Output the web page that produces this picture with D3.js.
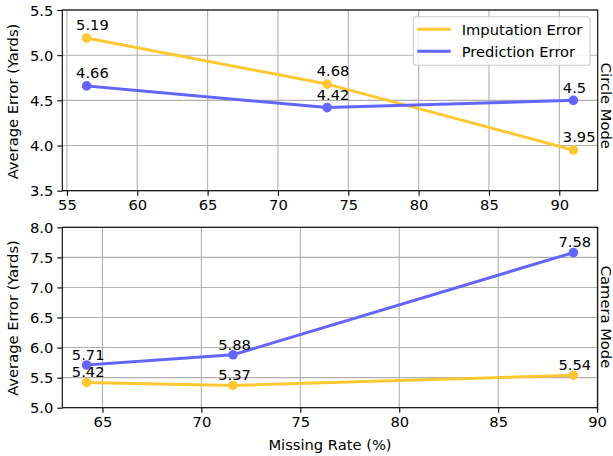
<!DOCTYPE html>
<html><head><meta charset="utf-8">
<script src="https://cdn.jsdelivr.net/npm/d3@7"></script>
<style>body{margin:0;background:#fff}svg{display:block}text{font-family:"DejaVu Sans",sans-serif}</style>
</head><body><svg id="c" width="613" height="456"></svg>
<script>
// Data
const circleMissing = [56.4, 73.5, 91.0];
const circleImputation = [5.19, 4.68, 3.95];
const circlePrediction = [4.66, 4.42, 4.5];
const cameraMissing = [64.2, 71.6, 88.8];
const cameraImputation = [5.42, 5.37, 5.54];
const cameraPrediction = [5.71, 5.88, 7.58];
const circleXTicks = [55, 60, 65, 70, 75, 80, 85, 90];
const circleYTicks = [3.5, 4.0, 4.5, 5.0, 5.5];
const cameraXTicks = [65, 70, 75, 80, 85, 90];
const cameraYTicks = [5.0, 5.5, 6.0, 6.5, 7.0, 7.5, 8.0];
const seriesNames = ["Imputation Error", "Prediction Error"];
const panelNames = ["Circle Mode", "Camera Mode"];

const colors = ["#FFC832", "#6464FF"];
const FS = 14.7;
const svg = d3.select("#c");

function padDomain(a){const lo=d3.min(a),hi=d3.max(a),m=(hi-lo)*0.05;return [lo-m,hi+m];}

function panel(cfg){
  const {x0,x1,y0,y1,xs,ys,yDom,xTicks,yTicks,name,labelY,rightY} = cfg;
  const x = d3.scaleLinear().domain(padDomain(xs)).range([x0,x1]);
  const y = d3.scaleLinear().domain(yDom).range([y1,y0]);
  const g = svg.append("g");
  // grid
  g.selectAll(".gx").data(xTicks).enter().append("line")
    .attr("x1",d=>x(d)).attr("x2",d=>x(d)).attr("y1",y0).attr("y2",y1)
    .attr("stroke","#b0b0b0").attr("stroke-width",1.1);
  g.selectAll(".gy").data(yTicks).enter().append("line")
    .attr("y1",d=>y(d)).attr("y2",d=>y(d)).attr("x1",x0).attr("x2",x1)
    .attr("stroke","#b0b0b0").attr("stroke-width",1.1);
  // axes
  const xa = d3.axisBottom(x).tickValues(xTicks).tickSize(5).tickPadding(4).tickFormat(d3.format("d"));
  const ya = d3.axisLeft(y).tickValues(yTicks).tickSize(5).tickPadding(4).tickFormat(d3.format(".1f"));
  const gx = g.append("g").attr("transform",`translate(0,${y1})`).call(xa);
  const gy = g.append("g").attr("transform",`translate(${x0},0)`).call(ya);
  [gx,gy].forEach(a=>{a.select(".domain").remove();
    a.selectAll("line").attr("stroke","#000").attr("stroke-width",1.1);
    a.selectAll("text").attr("font-size",FS).attr("fill","#000").attr("font-family","DejaVu Sans");});
  gx.selectAll("text").attr("dy","0.71em");
  gy.selectAll("text").attr("dy","0.36em");
  // spines
  g.append("rect").attr("x",x0).attr("y",y0).attr("width",x1-x0).attr("height",y1-y0)
    .attr("fill","none").attr("stroke","#000").attr("stroke-width",1.1);
  // series
  const vals = [cfg.imp, cfg.pred];
  vals.forEach((v,i)=>{
    const pts = xs.map((xv,j)=>[xv,v[j]]);
    g.append("path").datum(pts).attr("fill","none").attr("stroke",colors[i]).attr("stroke-width",3)
      .attr("stroke-linejoin","round").attr("stroke-linecap","square")
      .attr("d",d3.line().x(d=>x(d[0])).y(d=>y(d[1])));
    g.selectAll(null).data(pts).enter().append("circle")
      .attr("cx",d=>x(d[0])).attr("cy",d=>y(d[1])).attr("r",4.8).attr("fill",colors[i]);
  });
  vals.forEach((v,i)=>{
    g.selectAll(null).data(xs.map((xv,j)=>[xv,v[j]])).enter().append("text")
      .attr("x",d=>x(d[0]-0.75)).attr("y",d=>y(d[1]+0.085))
      .attr("font-size",FS).attr("fill","#000").text(d=>String(d[1]));
  });
  // labels
  svg.append("text").attr("transform",`translate(18,${labelY}) rotate(-90)`)
    .attr("text-anchor","middle").attr("font-size",FS).text("Average Error (Yards)");
  svg.append("text").attr("transform",`translate(600.5,${rightY}) rotate(90)`)
    .attr("text-anchor","middle").attr("font-size",FS).text(name);
  return {x,y,g};
}

const p1 = panel({x0:62.3,x1:597.7,y0:10,y1:190.7,xs:circleMissing,imp:circleImputation,pred:circlePrediction,
  yDom:[3.5,5.5],xTicks:circleXTicks,yTicks:circleYTicks,name:panelNames[0],labelY:101.5,rightY:105.8});
const p2 = panel({x0:62.3,x1:597.7,y0:227.3,y1:407.7,xs:cameraMissing,imp:cameraImputation,pred:cameraPrediction,
  yDom:[5.0,8.0],xTicks:cameraXTicks,yTicks:cameraYTicks,name:panelNames[1],labelY:318,rightY:317});

svg.append("text").attr("x",330).attr("y",450).attr("text-anchor","middle").attr("font-size",FS).text("Missing Rate (%)");

// legend
const lg = svg.append("g");
lg.append("rect").attr("x",413.3).attr("y",16.7).attr("width",176.7).attr("height",48.6).attr("rx",3)
  .attr("fill","#fff").attr("fill-opacity",0.8).attr("stroke","#cccccc").attr("stroke-width",1.1);
seriesNames.forEach((n,i)=>{
  const yy = 29.3 + i*22;
  lg.append("line").attr("x1",417.3).attr("x2",450.7).attr("y1",yy).attr("y2",yy)
    .attr("stroke",colors[i]).attr("stroke-width",3);
  lg.append("text").attr("x",461.7).attr("y",yy+5.2).attr("font-size",FS).text(n);
});
</script></body></html>
